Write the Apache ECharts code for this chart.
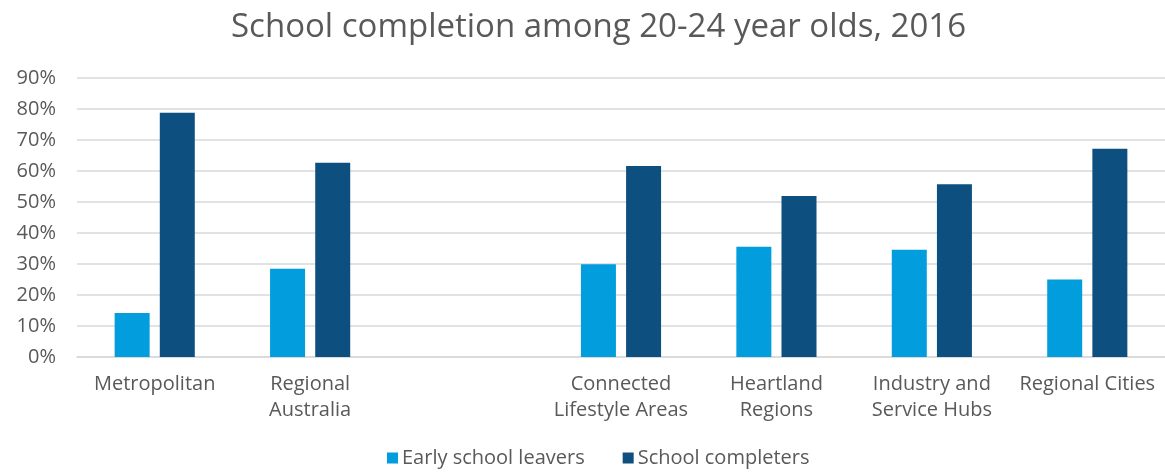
<!DOCTYPE html>
<html>
<head>
<meta charset="utf-8">
<script src="https://cdn.jsdelivr.net/npm/echarts@6/dist/echarts.min.js"></script>
<style>
  html, body { margin: 0; padding: 0; background: #ffffff; }
  #chart { width: 1165px; height: 474px; }
</style>
</head>
<body>
<div id="chart"></div>
<script>
// categories (empty one is the gap between groups)
var categories = ['Metropolitan', 'Regional\nAustralia', '', 'Connected\nLifestyle Areas',
  'Heartland\nRegions', 'Industry and\nService Hubs', 'Regional Cities']
var earlyLeavers = [14.2, 28.5, null, 29.9, 35.6, 34.6, 25.0]
var completers = [78.8, 62.7, null, 61.6, 51.9, 55.7, 67.2]
var yTicks = [0, 10, 20, 30, 40, 50, 60, 70, 80, 90]

var fontFamily = '"Open Sans", "Noto Sans", sans-serif'
var textColor = '#595959'

var chart = echarts.init(document.getElementById('chart'))
chart.setOption({
  backgroundColor: '#ffffff',
  animation: false,
  title: {
    text: 'School completion among 20-24 year olds, 2016',
    left: 226,
    top: 6,
    textStyle: {
      fontFamily: fontFamily,
      fontWeight: 'normal',
      fontSize: 33,
      color: textColor
    }
  },
  legend: {
    bottom: 1,
    left: 382,
    icon: 'rect',
    itemWidth: 11,
    itemHeight: 11,
    itemGap: 38,
    textStyle: {
      fontFamily: fontFamily,
      fontSize: 20,
      color: textColor,
      padding: [0, 0, 0, -1]
    },
    data: ['Early school leavers', 'School completers']
  },
  grid: {
    left: 77,
    right: 0,
    top: 78,
    bottom: 117
  },
  xAxis: [{
    type: 'category',
    data: categories,
    axisTick: { show: false },
    axisLine: {
      lineStyle: { color: '#d9d9d9', width: 1.5 }
    },
    axisLabel: {
      interval: 0,
      margin: 14,
      lineHeight: 26,
      fontFamily: fontFamily,
      fontSize: 20,
      color: textColor
    }
  }],
  yAxis: [{
    type: 'value',
    min: 0,
    max: 90,
    interval: 10,
    axisTick: { show: false },
    axisLine: { show: false },
    axisLabel: {
      margin: 21,
      fontFamily: fontFamily,
      fontSize: 20,
      color: textColor,
      formatter: function (v) {
        return yTicks.indexOf(v) >= 0 ? v + '%' : ''
      }
    },
    splitLine: {
      lineStyle: { color: '#d9d9d9', width: 1.5 }
    }
  }],
  series: [{
    name: 'Early school leavers',
    type: 'bar',
    data: earlyLeavers,
    barWidth: 35,
    barGap: '29%',
    itemStyle: { color: '#019ddd' }
  }, {
    name: 'School completers',
    type: 'bar',
    data: completers,
    barWidth: 35,
    barGap: '29%',
    itemStyle: { color: '#0d4f7f' }
  }]
})
</script>
</body>
</html>
